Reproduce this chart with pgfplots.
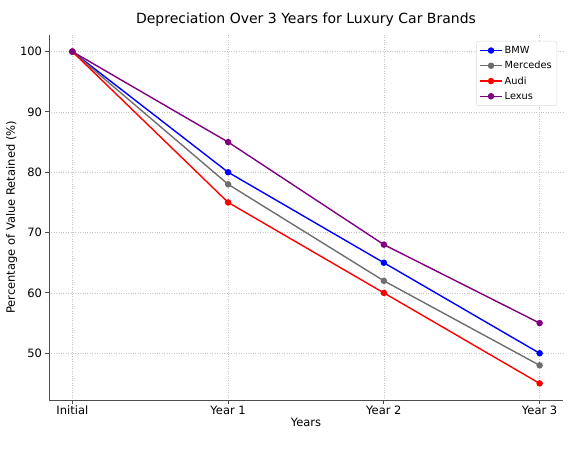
\documentclass[border=0pt]{standalone}
\usepackage{pgfplots}
\pgfplotsset{compat=1.18}
\usepackage{fontspec}
\setmainfont{DejaVu Sans}
\definecolor{lexus}{RGB}{128,0,128}
\definecolor{merc}{RGB}{110,110,110}
\begin{document}
\begin{tikzpicture}[x=1pt,y=1pt]
\path[use as bounding box] (0,0) rectangle (570,450);
\begin{axis}[
  at={(49pt,50pt)}, anchor=south west,
  scale only axis, width=514pt, height=365pt,
  xmin=-0.15, xmax=3.15, ymin=42.25, ymax=102.75,
  xtick={0,1,2,3}, xticklabels={Initial,Year 1,Year 2,Year 3},
  ytick={50,60,70,80,90,100},
  axis x line*=bottom, axis y line*=left,
  axis line style={black!70, line width=0.9pt, -},
  tick style={black!70, line width=0.9pt},
  tick align=outside, major tick length=3.5pt,
  xmajorgrids, ymajorgrids,
  grid style={gray!45, dotted, line width=0.7pt},
  /pgf/number format/assume math mode=true,
  tick label style={font=\fontsize{11.5}{13}\selectfont},
  xticklabel style={yshift=1pt},
  title={Depreciation Over 3 Years for Luxury Car Brands},
  title style={font=\fontsize{14}{16}\selectfont, yshift=-1pt},
  xlabel={Years}, ylabel={Percentage of Value Retained (\%)},
  label style={font=\fontsize{11.5}{13}\selectfont},
  xlabel style={yshift=4pt},
  ylabel style={yshift=-4pt},
  legend style={at={([xshift=-6pt,yshift=-6pt]rel axis cs:1,1)}, anchor=north east, font=\fontsize{9.8}{11}\selectfont,
    draw=gray!30, rounded corners=2pt, row sep=2.4pt, inner sep=3pt},
  legend cell align=left,
  legend image code/.code={\draw[#1, line width=1.4pt, mark repeat=2, mark phase=2] plot coordinates {(0pt,0pt) (11pt,0pt) (22pt,0pt)};},
  every axis plot/.append style={line width=1.4pt, mark=*, mark size=2.5pt},
  clip=false,
]
\addplot[blue, mark options={fill=blue}] coordinates {(0,100) (1,80) (2,65) (3,50)};
\addlegendentry{BMW}
\addplot[merc, mark options={fill=merc}] coordinates {(0,100) (1,78) (2,62) (3,48)};
\addlegendentry{Mercedes}
\addplot[red, mark options={fill=red}] coordinates {(0,100) (1,75) (2,60) (3,45)};
\addlegendentry{Audi}
\addplot[lexus, mark options={fill=lexus}] coordinates {(0,100) (1,85) (2,68) (3,55)};
\addlegendentry{Lexus}
\end{axis}
\end{tikzpicture}
\end{document}
